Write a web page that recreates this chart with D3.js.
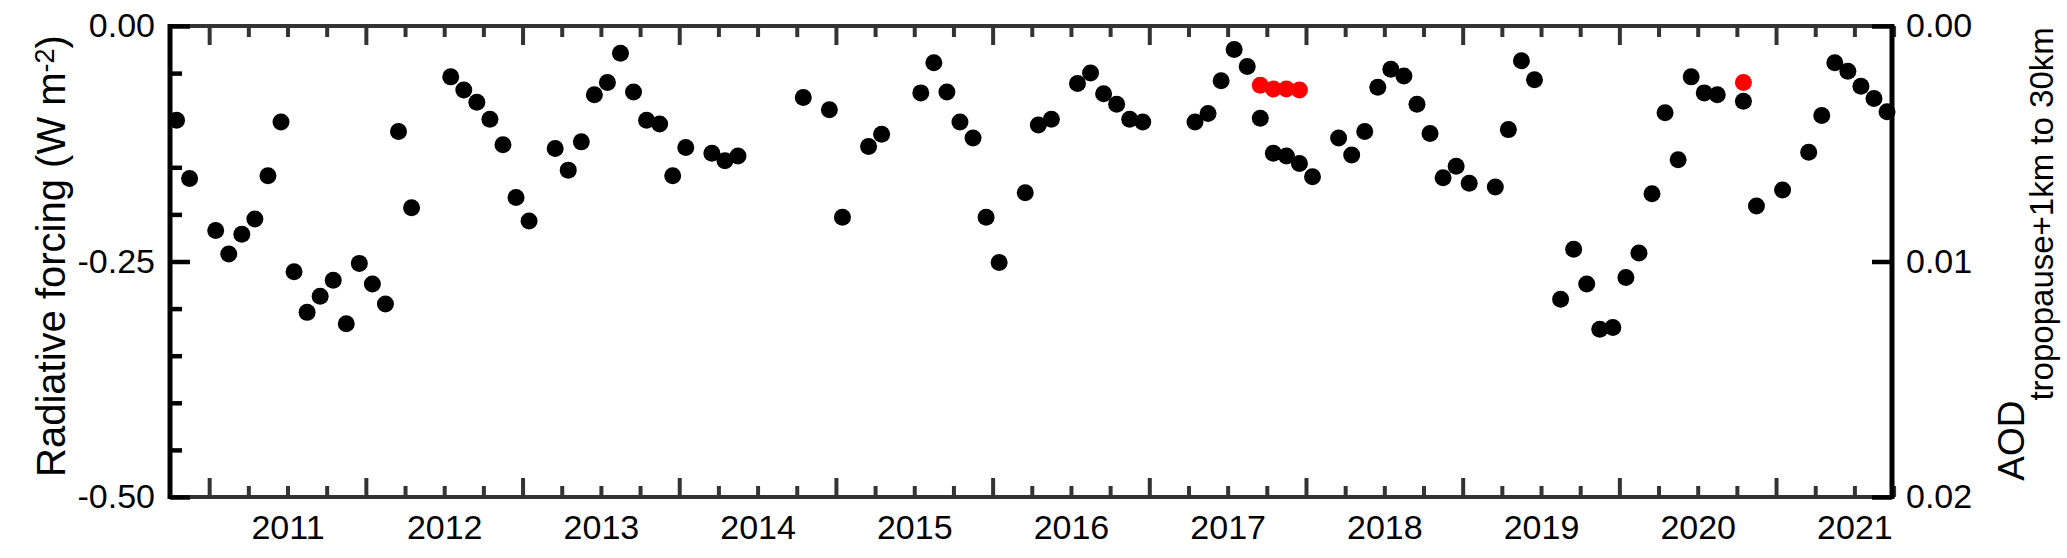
<!DOCTYPE html>
<html>
<head>
<meta charset="utf-8">
<script src="https://cdn.jsdelivr.net/npm/d3@7"></script>
<style>
    body { margin: 0; background: #fff; }
    svg text { font-family: "Liberation Sans", Arial, Helvetica, sans-serif; fill: #000; }
</style>
</head>
<body>
<div id="chart"></div>
<script>
    // monthly values, plotted at mid-month
    var blackMonths = [
        "2010-10","2010-11",
        "2011-01","2011-02","2011-03","2011-04","2011-05","2011-06","2011-07","2011-08","2011-09","2011-10","2011-11","2011-12",
        "2012-01","2012-02","2012-03","2012-04","2012-07","2012-08","2012-09","2012-10","2012-11","2012-12",
        "2013-01","2013-03","2013-04","2013-05","2013-06","2013-07","2013-08","2013-09","2013-10","2013-11","2013-12",
        "2014-01","2014-03","2014-04","2014-05","2014-10","2014-12",
        "2015-01","2015-03","2015-04","2015-07","2015-08","2015-09","2015-10","2015-11","2015-12",
        "2016-01","2016-03","2016-04","2016-05","2016-07","2016-08","2016-09","2016-10","2016-11","2016-12",
        "2017-04","2017-05","2017-06","2017-07","2017-08","2017-09","2017-10","2017-11","2017-12",
        "2018-01","2018-03","2018-04","2018-05","2018-06","2018-07","2018-08","2018-09","2018-10","2018-11","2018-12",
        "2019-01","2019-03","2019-04","2019-05","2019-06","2019-08","2019-09","2019-10","2019-11","2019-12",
        "2020-01","2020-02","2020-03","2020-04","2020-05","2020-06","2020-07","2020-08","2020-10","2020-11",
        "2021-01","2021-03","2021-04","2021-05","2021-06","2021-07","2021-08","2021-09"
    ];
    var blackValues = [
        -0.100, -0.162,
        -0.217, -0.242, -0.221, -0.205, -0.159, -0.102, -0.261, -0.304, -0.287, -0.270, -0.316, -0.252,
        -0.274, -0.295, -0.112, -0.193, -0.054, -0.068, -0.081, -0.099, -0.126, -0.182,
        -0.207, -0.130, -0.153, -0.123, -0.073, -0.060, -0.029, -0.070, -0.100, -0.104, -0.159,
        -0.129, -0.135, -0.143, -0.138, -0.076, -0.089,
        -0.203, -0.128, -0.115, -0.071, -0.039, -0.070, -0.102, -0.119, -0.203,
        -0.251, -0.177, -0.105, -0.099, -0.061, -0.050, -0.072, -0.083, -0.099, -0.102,
        -0.102, -0.093, -0.058, -0.025, -0.043, -0.098, -0.135, -0.138, -0.146,
        -0.160, -0.119, -0.137, -0.112, -0.065, -0.046, -0.053, -0.083, -0.114, -0.161, -0.149,
        -0.167, -0.171, -0.110, -0.037, -0.057, -0.290, -0.237, -0.274, -0.322, -0.320,
        -0.267, -0.241, -0.178, -0.092, -0.142, -0.054, -0.071, -0.073, -0.080, -0.191,
        -0.174, -0.134, -0.095, -0.039, -0.048, -0.064, -0.077, -0.091
    ];
    var redMonths = ["2017-09","2017-10","2017-11","2017-12","2020-10"];
    var redValues = [-0.063, -0.067, -0.067, -0.068, -0.060];

    var yearLabels = [2011, 2012, 2013, 2014, 2015, 2016, 2017, 2018, 2019, 2020, 2021];
    var leftTickLabels = [0, -0.25, -0.5];
    var rightTickLabels = [0, 0.01, 0.02];

    var margin = {top: 26, right: 175, bottom: 61, left: 170};
    var width = 2067 - margin.left - margin.right;
    var height = 558 - margin.top - margin.bottom;

    function toYear(m) {
        var p = m.split("-");
        return +p[0] + (+p[1] - 0.5) / 12;
    }
    // plain hyphen instead of d3's unicode minus
    function fmt2(d) { return d.toFixed(2).replace("\u2212", "-"); }

    var x = d3.scaleLinear().domain([2010.75, 2021.74]).range([0, width]);
    var y = d3.scaleLinear().domain([0, -0.5]).range([0, height]);
    var yR = d3.scaleLinear().domain([0, 0.02]).range([0, height]);

    var svg = d3.select("#chart").append("svg")
        .attr("width", 2067)
        .attr("height", 558)
        .append("g")
        .attr("transform", "translate(" + margin.left + "," + margin.top + ")");

    // quarter-year ticks (short) and year ticks (long)
    var quarters = d3.range(2011, 2021.76, 0.25).filter(function (d) { return d % 1 !== 0; });
    var years = d3.range(2011, 2022);

    function styleTicks(g, color, w) {
        g.select(".domain").remove();
        g.selectAll(".tick line").attr("stroke", color).attr("stroke-width", w);
    }

    // bottom
    svg.append("g").attr("transform", "translate(0," + height + ")")
        .call(d3.axisBottom(x).tickValues(quarters).tickSize(-11).tickFormat(""))
        .call(styleTicks, "#333", 4);
    svg.append("g").attr("transform", "translate(0," + height + ")")
        .call(d3.axisBottom(x).tickValues(years).tickSize(-19).tickFormat(""))
        .call(styleTicks, "#333", 4);
    // top
    svg.append("g")
        .call(d3.axisTop(x).tickValues(quarters).tickSize(-11).tickFormat(""))
        .call(styleTicks, "#333", 4);
    svg.append("g")
        .call(d3.axisTop(x).tickValues(years).tickSize(-19).tickFormat(""))
        .call(styleTicks, "#333", 4);

    // year labels centred in each year
    var xLab = svg.append("g").attr("transform", "translate(0," + height + ")")
        .call(d3.axisBottom(x).tickValues(yearLabels.map(function (d) { return d + 0.5; }))
            .tickSize(0).tickFormat(function (d) { return Math.floor(d); }));
    xLab.select(".domain").remove();
    xLab.selectAll("text").attr("y", 42).attr("dy", 0)
        .style("font-size", "34px").style("font-family", null);

    // frame: top/bottom grey
    svg.append("line").attr("x1", 0).attr("x2", width).attr("y1", 0).attr("y2", 0)
        .attr("stroke", "#333").attr("stroke-width", 4);
    svg.append("line").attr("x1", 0).attr("x2", width).attr("y1", height).attr("y2", height)
        .attr("stroke", "#333").attr("stroke-width", 4);

    // left axis
    var yMinor = d3.range(0, -0.5001, -0.05).filter(function (d, i) { return i % 5 !== 0; });
    svg.append("g")
        .call(d3.axisLeft(y).tickValues(yMinor).tickSize(-12).tickFormat(""))
        .call(styleTicks, "#000", 4.5);
    var yAx = svg.append("g")
        .call(d3.axisLeft(y).tickValues(leftTickLabels).tickSize(-20).tickPadding(15)
            .tickFormat(fmt2));
    yAx.select(".domain").remove();
    yAx.selectAll(".tick line").attr("stroke", "#000").attr("stroke-width", 4.5);
    yAx.selectAll("text").style("font-size", "34px").style("font-family", null);

    // right axis (AOD)
    var rAx = svg.append("g").attr("transform", "translate(" + width + ",0)")
        .call(d3.axisRight(yR).tickValues(rightTickLabels).tickSize(-20).tickPadding(14)
            .tickFormat(fmt2));
    rAx.select(".domain").remove();
    rAx.selectAll(".tick line").attr("stroke", "#000").attr("stroke-width", 4.5);
    rAx.selectAll("text").style("font-size", "34px").style("font-family", null);

    svg.append("line").attr("x1", 0).attr("x2", 0).attr("y1", -2).attr("y2", height + 2)
        .attr("stroke", "#000").attr("stroke-width", 5);
    svg.append("line").attr("x1", width).attr("x2", width).attr("y1", -2).attr("y2", height + 2)
        .attr("stroke", "#000").attr("stroke-width", 5);

    // axis titles
    var yTitle = svg.append("text")
        .attr("transform", "translate(" + (65 - margin.left) + "," + (256 - margin.top) + ") rotate(-90)")
        .attr("text-anchor", "middle")
        .style("font-size", "40px");
    yTitle.append("tspan").text("Radiative forcing (W m");
    yTitle.append("tspan").attr("dy", "-0.42em").style("font-size", "27px").text("-2");
    yTitle.append("tspan").attr("dy", "0.28em").text(")");

    var rTitle = svg.append("text")
        .attr("transform", "translate(" + (2024 - margin.left) + "," + (254 - margin.top) + ") rotate(-90)")
        .attr("text-anchor", "middle")
        .style("font-size", "37px");
    rTitle.append("tspan").text("AOD");
    rTitle.append("tspan").attr("dy", 29).style("font-size", "33px").text("tropopause+1km to 30km");

    // points
    var blackData = blackMonths.map(function (m, i) { return {t: toYear(m), v: blackValues[i]}; });
    var redData = redMonths.map(function (m, i) { return {t: toYear(m), v: redValues[i]}; });

    svg.selectAll(".dot-black")
        .data(blackData)
        .enter().append("circle")
        .attr("class", "dot-black")
        .attr("cx", function (d) { return x(d.t); })
        .attr("cy", function (d) { return y(d.v); })
        .attr("r", 8.5)
        .attr("fill", "#000");

    svg.selectAll(".dot-red")
        .data(redData)
        .enter().append("circle")
        .attr("class", "dot-red")
        .attr("cx", function (d) { return x(d.t); })
        .attr("cy", function (d) { return y(d.v); })
        .attr("r", 8.5)
        .attr("fill", "#ff0000");
</script>
</body>
</html>
